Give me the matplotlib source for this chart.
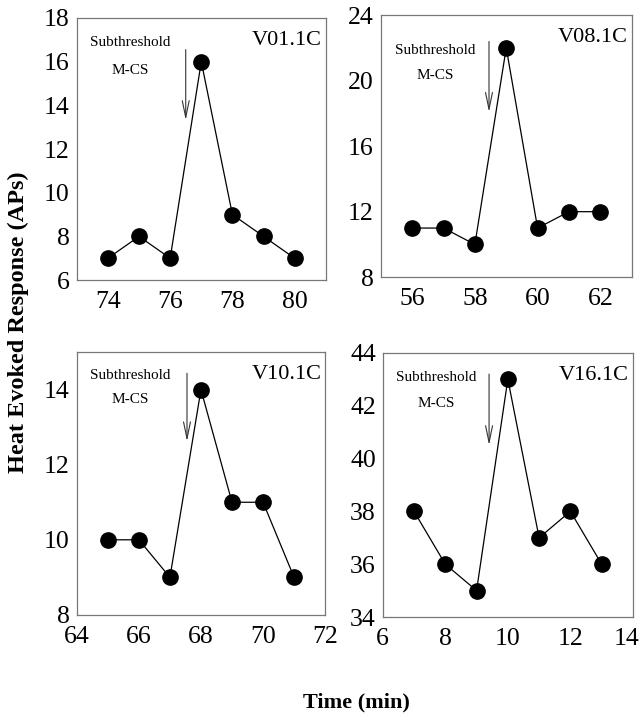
import matplotlib
matplotlib.use("Agg")
import matplotlib.pyplot as plt
import matplotlib.transforms as mtransforms

plt.rcParams["font.family"] = ["Liberation Serif", "DejaVu Serif"]

# panel data
names = ["V01.1C", "V08.1C", "V10.1C", "V16.1C"]
times = [
    [74, 75, 76, 77, 78, 79, 80],
    [56, 57, 58, 59, 60, 61, 62],
    [65, 66, 67, 68, 69, 70, 71],
    [7, 8, 9, 10, 11, 12, 13],
]
responses = [
    [7, 8, 7, 16, 9, 8, 7],
    [11, 11, 10, 22, 11, 12, 12],
    [10, 10, 9, 14, 11, 11, 9],
    [38, 36, 35, 43, 37, 38, 36],
]
stim_times = [76.5, 58.45, 67.55, 9.4]
xlims = [(73, 81), (55, 63), (64, 72), (6, 14)]
ylims = [(6, 18), (8, 24), (8, 15), (34, 44)]
xticks = [[74, 76, 78, 80], [56, 58, 60, 62], [64, 66, 68, 70, 72], [6, 8, 10, 12, 14]]
yticks = [[6, 8, 10, 12, 14, 16, 18], [8, 12, 16, 20, 24], [8, 10, 12, 14], [34, 36, 38, 40, 42, 44]]

# layout (figure fractions) and arrow / text placement (axes fractions)
rects = [
    [0.120, 0.611, 0.389, 0.364],
    [0.595, 0.615, 0.392, 0.364],
    [0.120, 0.146, 0.388, 0.365],
    [0.598, 0.143, 0.391, 0.367],
]
arrow_y = [(0.89, 0.60), (0.91, 0.62), (0.93, 0.65), (0.93, 0.64)]
sub_y = [0.905, 0.866, 0.91, 0.905]
mcs_y = [0.80, 0.77, 0.82, 0.81]

fig = plt.figure(figsize=(6.4, 7.2), dpi=100)

for i in range(4):
    ax = fig.add_axes(rects[i])
    ax.plot(times[i], responses[i], color="black", lw=0.9, marker="o",
            markersize=11, markerfacecolor="black", markeredgecolor="black", zorder=3)
    ax.set_xlim(xlims[i])
    ax.set_ylim(ylims[i])
    ax.set_xticks(xticks[i])
    ax.set_yticks(yticks[i])
    ax.tick_params(length=0, labelsize=18.5)
    ax.tick_params(axis="x", pad=8)
    ax.tick_params(axis="y", pad=5)
    for sp in ax.spines.values():
        sp.set_color("#777777")
        sp.set_linewidth(0.9)

    y0, y1 = arrow_y[i]
    tr = ax.get_xaxis_transform()
    ax.annotate("", xy=(stim_times[i], y1), xytext=(stim_times[i], y0),
                xycoords=tr, textcoords=tr,
                arrowprops=dict(arrowstyle="->,head_length=1.2,head_width=0.25",
                                color="#333333", lw=0.8))
    ax.text(0.215, sub_y[i], "Subthreshold", transform=ax.transAxes,
            ha="center", va="center", fontsize=11)
    ax.text(0.215, mcs_y[i], "M-CS", transform=ax.transAxes,
            ha="center", va="center", fontsize=11)
    ax.text(0.985, 0.915, names[i], transform=ax.transAxes,
            ha="right", va="center", fontsize=16)

    if i == 3:
        # last tick label sits at the figure edge: keep it inside
        last = ax.get_xticklabels()[-1]
        last.set_horizontalalignment("right")
        last.set_transform(last.get_transform() +
                           mtransforms.ScaledTranslation(6 / 100, 0, fig.dpi_scale_trans))

fig.text(0.029, 0.553, "Heat Evoked Response (APs)", rotation=90,
         ha="center", va="center", fontsize=17.5, fontweight="bold")
fig.text(0.557, 0.025, "Time (min)", ha="center", va="center",
         fontsize=16, fontweight="bold")

fig.savefig("out.png", dpi=100)
